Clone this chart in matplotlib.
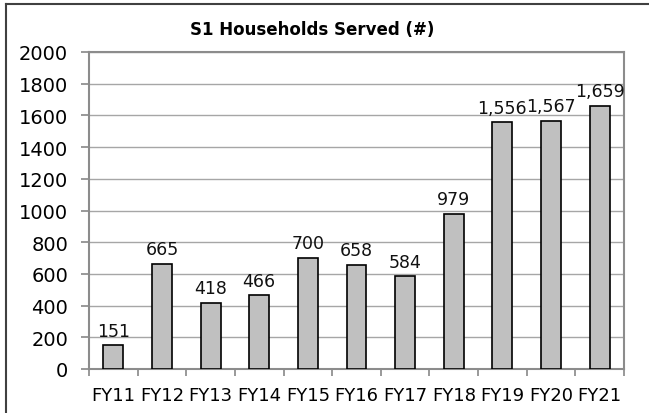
import matplotlib
matplotlib.use("Agg")
import matplotlib.pyplot as plt
from matplotlib.lines import Line2D

# data
years = ["FY11", "FY12", "FY13", "FY14", "FY15", "FY16",
         "FY17", "FY18", "FY19", "FY20", "FY21"]
served = [151, 665, 418, 466, 700, 658, 584, 979, 1556, 1567, 1659]
yticks = [0, 200, 400, 600, 800, 1000, 1200, 1400, 1600, 1800, 2000]

plt.rcParams["font.family"] = "DejaVu Sans"

fig = plt.figure(figsize=(6.49, 4.14), dpi=100)
ax = fig.add_axes([89/649, 1 - 370/414, (624 - 89)/649, (370 - 53)/414])

x = list(range(len(years)))
ax.bar(x, served, width=0.41, color="#c0c0c0", edgecolor="black",
       linewidth=1.2, zorder=3)

for xi, v in zip(x, served):
    ax.annotate(f"{v:,}", (xi, v), xytext=(0, 4), textcoords="offset points",
                ha="center", va="bottom", fontsize=12.5, color="#111111")

ax.set_xlim(-0.5, len(years) - 0.5)
ax.set_ylim(0, 2000)
ax.set_yticks(yticks)
ax.set_yticklabels([str(t) for t in yticks], fontsize=14)
ax.yaxis.grid(True, color="#a6a6a6", linewidth=1.0, zorder=0)
ax.set_axisbelow(True)

# category labels centred, tick marks between categories
ax.set_xticks(x)
ax.set_xticklabels(years, fontsize=13)
ax.tick_params(axis="x", which="major", length=0, pad=12)
ax.set_xticks([i - 0.5 for i in range(len(years) + 1)], minor=True)
ax.tick_params(axis="x", which="minor", length=5, color="#888888", width=1.2)
ax.tick_params(axis="y", length=6, color="#888888", width=1.2, pad=9)

for s in ax.spines.values():
    s.set_color("#8c8c8c")
    s.set_linewidth(1.5)

fig.text(312/649, 1 - 30/414, "S1 Households Served (#)", ha="center",
         va="center", fontsize=12, fontweight="bold")

# outer frame (left and top edges only visible)
fig.add_artist(Line2D([6/649, 6/649], [0, 1 - 5/414], transform=fig.transFigure,
                      color="#404040", linewidth=1.5))
fig.add_artist(Line2D([6/649, 1], [1 - 5/414, 1 - 5/414], transform=fig.transFigure,
                      color="#404040", linewidth=1.5))

fig.savefig("out.png", dpi=100)
